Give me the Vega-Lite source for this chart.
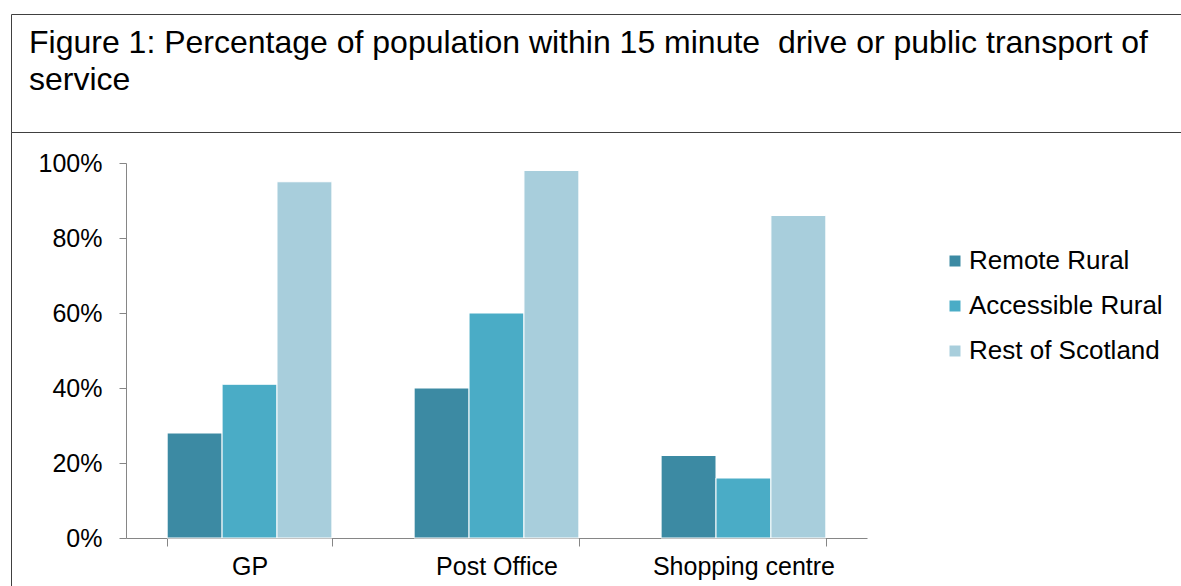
{
  "$schema": "https://vega.github.io/schema/vega-lite/v6.json",
  "padding": {"left": 10, "top": 13, "right": 0, "bottom": 0},
  "background": "white",
  "spacing": 0,
  "bounds": "flush",
  "config": {
    "font": "Liberation Sans",
    "axis": {"labelFont": "Liberation Sans", "labelFontSize": 25, "labelColor": "black", "domainColor": "#868686", "tickColor": "#868686", "grid": false, "labelLimit": 0},
    "legend": {"labelFont": "Liberation Sans", "labelColor": "black"}
  },
  "vconcat": [
    {
      "width": 1180,
      "height": 118,
      "view": {"stroke": "#404040", "strokeWidth": 1, "fill": "white"},
      "title": {
        "text": ["Figure 1: Percentage of population within 15 minute\u00a0 drive or public transport of", "service"],
        "anchor": "start",
        "frame": "group",
        "orient": "top",
        "offset": -83,
        "dx": 18,
        "baseline": "top",
        "lineHeight": 37,
        "font": "Liberation Sans",
        "fontSize": 32,
        "fontWeight": "normal",
        "color": "black"
      },
      "data": {"values": [{}]},
      "mark": {"type": "text"},
      "encoding": {"text": {"value": ""}}
    },
    {
      "width": 1180,
      "height": 470,
      "view": {"stroke": "#404040", "strokeWidth": 1},
      "data": {
        "values": [
          {"service": "GP", "area": "Remote Rural", "pct": 28},
          {"service": "GP", "area": "Accessible Rural", "pct": 41},
          {"service": "GP", "area": "Rest of Scotland", "pct": 95},
          {"service": "Post Office", "area": "Remote Rural", "pct": 40},
          {"service": "Post Office", "area": "Accessible Rural", "pct": 60},
          {"service": "Post Office", "area": "Rest of Scotland", "pct": 98},
          {"service": "Shopping centre", "area": "Remote Rural", "pct": 22},
          {"service": "Shopping centre", "area": "Accessible Rural", "pct": 16},
          {"service": "Shopping centre", "area": "Rest of Scotland", "pct": 86}
        ]
      },
      "mark": {"type": "bar", "stroke": "white", "strokeWidth": 1},
      "encoding": {
        "x": {
          "field": "service", "type": "nominal", "sort": ["GP", "Post Office", "Shopping centre"],
          "scale": {"range": [115, 856], "paddingInner": 0.333, "paddingOuter": 0.1667},
          "axis": {"title": null, "labelAngle": 0, "offset": -64, "tickSize": 8, "labelPadding": 8, "tickBand": "extent"}
        },
        "xOffset": {
          "field": "area", "type": "nominal", "sort": ["Remote Rural", "Accessible Rural", "Rest of Scotland"],
          "scale": {"paddingInner": 0, "paddingOuter": 0}
        },
        "y": {
          "field": "pct", "type": "quantitative",
          "scale": {"domain": [0, 100], "range": [406, 31], "nice": false},
          "axis": {"title": null, "offset": -115, "values": [0, 20, 40, 60, 80, 100], "labelExpr": "datum.value + '%'", "tickSize": 7, "labelPadding": 17}
        },
        "color": {
          "field": "area", "type": "nominal", "sort": ["Remote Rural", "Accessible Rural", "Rest of Scotland"],
          "scale": {"domain": ["Remote Rural", "Accessible Rural", "Rest of Scotland"], "range": ["#3C8AA3", "#4AACC6", "#A8CEDC"]},
          "legend": {"orient": "none", "legendX": 931, "legendY": 234, "title": null, "symbolType": "square", "symbolSize": 121, "symbolStrokeWidth": 0, "labelFontSize": 26, "labelOffset": 1, "labelLimit": 0, "rowPadding": 19, "padding": 0}
        }
      }
    }
  ]
}
